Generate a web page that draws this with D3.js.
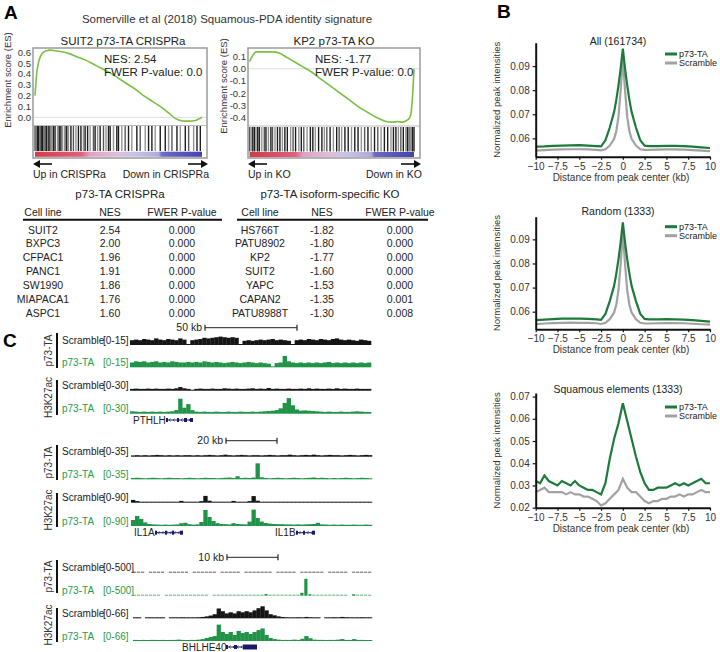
<!DOCTYPE html>
<html><head><meta charset="utf-8">
<script src="https://cdn.jsdelivr.net/npm/d3@7"></script>
<style>body{margin:0;background:#fff}svg{font-family:"Liberation Sans",Arial,sans-serif}</style>
</head><body><svg id="c" width="720" height="652"></svg>
<script>
// ---------------- DATA ----------------
// Panel A: GSEA running enrichment score (rank fraction, ES)
const gseaLeftRank = [0,0.01,0.02,0.035,0.05,0.07,0.09,0.12,0.16,0.2,0.25,0.3,0.35,0.4,0.45,0.5,0.55,0.6,0.65,0.7,0.75,0.8,0.84,0.87,0.9,0.93,0.96,0.98,1];
const gseaLeftES   = [0.2,0.4,0.5,0.57,0.6,0.615,0.62,0.615,0.605,0.59,0.56,0.53,0.49,0.45,0.41,0.36,0.31,0.26,0.2,0.15,0.1,0.04,-0.01,-0.03,-0.035,-0.035,-0.03,-0.015,0.0];
const gseaRightRank = [0,0.02,0.04,0.07,0.1,0.14,0.18,0.22,0.27,0.32,0.37,0.42,0.47,0.52,0.57,0.62,0.67,0.72,0.77,0.82,0.87,0.9,0.93,0.95,0.97,0.98,0.99,1];
const gseaRightES   = [0.06,0.11,0.14,0.14,0.14,0.14,0.13,0.1,0.06,0.02,-0.02,-0.07,-0.12,-0.17,-0.22,-0.27,-0.32,-0.36,-0.4,-0.43,-0.44,-0.435,-0.44,-0.43,-0.41,-0.38,-0.25,0.0];
const gseaLeftHits = [0,0.008,0.015,0.022,0.03,0.037,0.045,0.052,0.06,0.068,0.075,0.083,0.09,0.1,0.11,0.12,0.135,0.145,0.155,0.165,0.18,0.19,0.2,0.215,0.23,0.245,0.26,0.275,0.29,0.3,0.315,0.33,0.35,0.36,0.375,0.39,0.41,0.425,0.44,0.45,0.47,0.49,0.5,0.52,0.54,0.56,0.58,0.61,0.63,0.66,0.68,0.7,0.72,0.75,0.78,0.8,0.82,0.85,0.87,0.9,0.92,0.95,0.97,0.99];
const gseaRightHits = [0,0.01,0.02,0.03,0.04,0.05,0.06,0.075,0.09,0.1,0.115,0.13,0.14,0.155,0.17,0.185,0.2,0.215,0.23,0.25,0.265,0.28,0.3,0.315,0.33,0.35,0.37,0.385,0.4,0.42,0.44,0.455,0.47,0.49,0.51,0.53,0.545,0.56,0.58,0.6,0.62,0.64,0.66,0.68,0.7,0.72,0.74,0.76,0.78,0.8,0.82,0.84,0.86,0.875,0.89,0.905,0.92,0.935,0.95,0.96,0.97,0.98,0.99,1];
const gseaLeftTicks = [0.0,0.1,0.2,0.3,0.4,0.5,0.6];
const gseaRightTicks = [-0.4,-0.3,-0.2,-0.1,0.0,0.1];

// Panel A tables
const crisprCells = ["SUIT2","BXPC3","CFPAC1","PANC1","SW1990","MIAPACA1","ASPC1"];
const crisprNES   = [2.54,2.00,1.96,1.91,1.86,1.76,1.60];
const crisprP     = [0,0,0,0,0,0,0];
const koCells = ["HS766T","PATU8902","KP2","SUIT2","YAPC","CAPAN2","PATU8988T"];
const koNES   = [-1.82,-1.80,-1.77,-1.60,-1.53,-1.35,-1.30];
const koP     = [0,0,0,0,0,0.001,0.008];

// Panel B: aggregate peak profiles
const profX = [-10,-9,-8,-7,-6,-5,-4,-3,-2.5,-2,-1.5,-1,-0.75,-0.5,-0.25,0,0.25,0.5,0.75,1,1.5,2,2.5,3,4,5,6,7,8,9,10];
const allP73 = [0.0566,0.0567,0.0569,0.0570,0.0571,0.0572,0.0570,0.0568,0.0567,0.0592,0.0645,0.0710,0.0760,0.0820,0.0890,0.0972,0.0890,0.0820,0.0760,0.0710,0.0645,0.0592,0.0570,0.0568,0.0568,0.0569,0.0569,0.0568,0.0566,0.0563,0.0560];
const allScr = [0.0549,0.0551,0.0553,0.0554,0.0555,0.0555,0.0554,0.0552,0.0550,0.0555,0.0570,0.0598,0.0630,0.0690,0.0800,0.0930,0.0800,0.0690,0.0630,0.0598,0.0570,0.0555,0.0552,0.0552,0.0553,0.0554,0.0554,0.0553,0.0551,0.0549,0.0547];
const rndP73 = [0.0565,0.0567,0.0569,0.0571,0.0571,0.0571,0.0570,0.0568,0.0566,0.0591,0.0644,0.0708,0.0758,0.0818,0.0888,0.0970,0.0888,0.0818,0.0758,0.0708,0.0644,0.0591,0.0570,0.0568,0.0568,0.0569,0.0568,0.0567,0.0565,0.0562,0.0559];
const rndScr = [0.0548,0.0551,0.0553,0.0554,0.0555,0.0554,0.0554,0.0552,0.0549,0.0554,0.0569,0.0597,0.0629,0.0689,0.0799,0.0928,0.0799,0.0689,0.0629,0.0597,0.0569,0.0554,0.0551,0.0551,0.0552,0.0553,0.0553,0.0552,0.0550,0.0548,0.0546];
const sqX = [-10,-9.5,-9,-8.5,-8,-7.5,-7,-6.5,-6,-5.5,-5,-4.5,-4,-3.5,-3,-2.5,-2,-1.5,-1,-0.5,0,0.5,1,1.5,2,2.5,3,3.5,4,4.5,5,5.5,6,6.5,7,7.5,8,8.5,9,9.5,10];
const sqP73 = [0.032,0.031,0.0345,0.032,0.031,0.030,0.032,0.031,0.030,0.032,0.030,0.029,0.028,0.028,0.027,0.026,0.031,0.042,0.051,0.058,0.067,0.059,0.051,0.043,0.036,0.031,0.028,0.028,0.029,0.029,0.029,0.030,0.031,0.030,0.031,0.030,0.031,0.032,0.033,0.031,0.031];
const sqScr = [0.027,0.028,0.029,0.027,0.027,0.027,0.027,0.026,0.027,0.026,0.026,0.025,0.025,0.024,0.023,0.021,0.022,0.024,0.026,0.028,0.033,0.029,0.027,0.027,0.025,0.023,0.022,0.023,0.023,0.024,0.024,0.025,0.025,0.026,0.025,0.026,0.026,0.027,0.028,0.027,0.027];
const profTicksX = [-10,-7.5,-5,-2.5,0,2.5,5,7.5,10];

// Panel C: binned browser-track signal (60 bins per track)
const c1ScrTA = [4,4.5,4,5,4.5,4,5.5,4.5,4,5,4.5,4,5.5,4.5,0.5,4,4.5,5,6,5.5,6,6.5,7,6.5,6,6.5,6,0.5,3.5,4,3.5,4,4.5,4,4.5,5,4,4.5,4,3.5,0.5,4,4.5,4,5,4.5,4,5,4.5,4,5,5.5,4.5,4,4.5,4,3.5,4.5,4,3.5];
const c1P73TA = [4,5,4.5,5,4,4.5,5,4,4.5,4,5,4.5,4,4,4.5,4,4.5,4,5,4.5,4,4.5,4,3.5,4,4.5,4,3.5,4,4.5,4,3.5,4,3.5,3,0.5,3.5,4,9.5,5,4,3.5,4,3.5,4,3.5,4,3.5,4,4.5,3.5,4,3.5,4,3.5,4,3.5,4,3.5,4];
const c1ScrAc = [3,3.5,3,3,3.5,3,3.5,3,3,3.5,3,4,6,4,3,0.5,3,3.5,3,3,3.5,3,3,4,3.5,3,3.5,3,3,3.5,4,3,3.5,3,4.5,3,3.5,3,3,3.5,3,3,3.5,3,4,3,3.5,3,3,3.5,3,4,3,3.5,3,3,3.5,3,3,3];
const c1P73Ac = [4,3.5,3,3.5,3,3.5,3,3.5,3,3.5,4,6,25,10,16,6,3.5,3,3.5,3,3,3.5,3,3,3.5,3,3,3.5,3,3,3.5,3,3.5,4,4.5,5,6,9,18,26,14,7,5,5.5,5,4.5,4,3.5,3,3.5,3,3,3.5,3,3,3.5,4,3.5,3,3];
const c2ScrTA = [2.5,3,2.5,3,2.5,3,3.5,3,2.5,3,2.5,3,2.5,3,3,2.5,3,2.5,3,3.5,3,2.5,3,4,3,2.5,3,3.5,3,2.5,3,3,2.5,3,3.5,3,2.5,3,3,4,3,2.5,3,3.5,3,4,3,2.5,3,3.5,3,3,2.5,3,3.5,3,2.5,3,3.5,3];
const c2P73TA = [2.5,3,2.5,2,2.5,3,2.5,2,2.5,3,2.5,2.5,2,2.5,3,2.5,2,2.5,3,2.5,2.5,2,2.5,3,3.5,2.5,6,2.5,3,2.5,3.5,31,4,2.5,2,2.5,3,2.5,2,2.5,3,2.5,2,2.5,3,3.5,2.5,3,2.5,0.5,2.5,2,2.5,3,2.5,2,2.5,3,2.5,2];
const c2ScrAc = [14,8,5,4,3.5,4,3.5,4,3.5,4,4,5,9,5,4,3.5,4,8,34,10,5,4,3.5,4,5,9,4,3.5,4,8,33,10,5,4,3.5,4,3.5,4,3.5,3,3.5,3,3.5,3,3.5,3,3,3.5,3,3,3.5,3,3,3.5,3,3,3.5,3,3,3];
const c2P73Ac = [30,50,35,18,10,8,7,6,7,6,7,8,14,16,9,7,8,20,80,45,25,14,10,9,8,14,10,9,8,22,82,40,22,15,12,10,9,9,8,8,7,8,7,8,9,10,16,8,7,6,7,6,7,6,6,7,6,6,7,6];
const c3ScrTA = [8,8,8,0,8,8,8,8,0,8,8,8,8,8,0,8,8,8,8,8,8,0,8,8,8,8,8,0,8,8,8,8,8,8,8,0,8,8,8,8,8,0,8,8,8,8,8,8,0,8,8,8,8,8,0,8,8,8,8,8];
const c3P73TA = [6,6,6,6,6,6,6,0,6,6,6,6,6,6,6,6,6,6,6,0,6,6,6,6,6,6,6,6,6,6,6,6,6,45,6,6,6,6,6,6,6,6,80,470,40,6,6,6,6,6,6,6,6,6,0,40,6,6,6,6];
const c3ScrAc = [3,3,0,3,3,3,3,3,0,3,3,3,4,3,3,3,4,5,7,10,15,36,26,18,22,18,26,22,26,22,29,37,44,29,15,11,7,5,4,3,3,4,3,5,4,3,3,0,3,3,4,3,5,4,3,3,3,4,3,3];
const c3P73Ac = [4,3,4,3,4,4,3,4,3,4,4,5,4,3,4,4,5,7,11,15,18,60,33,26,33,22,37,29,33,26,33,40,46,22,11,7,5,4,4,4,5,4,8,18,10,5,4,4,3,4,4,5,7,4,4,7,4,4,3,3];

// ---------------- DRAWING ----------------
const svg = d3.select("#c");
const FONT = "Liberation Sans, Arial, sans-serif";
function txt(x, y, s, o = {}) {
  const t = svg.append("text").attr("x", x).attr("y", y).text(s)
    .attr("font-size", o.size || 10).attr("fill", o.fill || "#222")
    .attr("text-anchor", o.anchor || "start").attr("font-family", FONT);
  if (o.bold) t.attr("font-weight", "bold");
  if (o.rot) t.attr("transform", `rotate(${o.rot},${x},${y})`);
  return t;
}

// Panel letters
txt(4, 19, "A", {size: 19, bold: true, fill: "#000"});
txt(497, 18, "B", {size: 19, bold: true, fill: "#000"});
txt(3, 347, "C", {size: 19, bold: true, fill: "#000"});

txt(227, 23, "Somerville et al (2018) Squamous-PDA identity signature", {size: 11.5, anchor: "middle", fill: "#333"});

// Gradient for ranked-list band
const defs = svg.append("defs");
const grad = defs.append("linearGradient").attr("id", "band");
[[0, "#d33a4a"], [0.28, "#e0607c"], [0.33, "#e2a2c8"], [0.5, "#dcc0dc"], [0.6, "#c6c2e6"], [0.74, "#b0aadc"], [0.76, "#6e6ac6"], [1, "#4442b0"]]
  .forEach(([o, c]) => grad.append("stop").attr("offset", o).attr("stop-color", c));

function gsea(cfg) {
  const x = d3.scaleLinear().domain([0, 1]).range([cfg.dx0, cfg.dx1]);
  const y = d3.scaleLinear().domain(cfg.yDom).range(cfg.yRange);
  const g = svg.append("g");
  const clipId = "clip" + cfg.id;
  defs.append("clipPath").attr("id", clipId).append("rect")
    .attr("x", cfg.bx0).attr("y", cfg.by0).attr("width", cfg.bx1 - cfg.bx0).attr("height", cfg.ydiv - cfg.by0);
  g.append("line").attr("x1", cfg.bx0).attr("x2", cfg.bx1).attr("y1", y(0)).attr("y2", y(0))
    .attr("stroke", "#ddd").attr("stroke-width", 1);
  g.selectAll(".hit").data(cfg.hits).join("line")
    .attr("x1", d => x(d)).attr("x2", d => x(d)).attr("y1", cfg.bar0).attr("y2", cfg.bar1)
    .attr("stroke", "#111").attr("stroke-width", 1.4)
    .attr("stroke-opacity", (d, i) => (i % 3 === 1 ? 0.45 : (i % 4 === 0 ? 0.7 : 0.95)));
  g.append("rect").attr("x", cfg.dx0).attr("y", cfg.band0).attr("width", cfg.dx1 - cfg.dx0)
    .attr("height", cfg.band1 - cfg.band0).attr("fill", "url(#band)");
  const pts = cfg.rank.map((r, i) => [r, cfg.es[i]]);
  g.append("path").datum(pts).attr("clip-path", `url(#${clipId})`)
    .attr("d", d3.line().x(d => x(d[0])).y(d => y(d[1])).curve(d3.curveMonotoneX))
    .attr("fill", "none").attr("stroke", "#78c043").attr("stroke-width", 1.6);
  g.append("line").attr("x1", cfg.bx0).attr("x2", cfg.bx1).attr("y1", cfg.ydiv).attr("y2", cfg.ydiv)
    .attr("stroke", "#bbb").attr("stroke-width", 1);
  g.append("rect").attr("x", cfg.bx0).attr("y", cfg.by0).attr("width", cfg.bx1 - cfg.bx0)
    .attr("height", cfg.by1 - cfg.by0).attr("fill", "none").attr("stroke", "#9a9a9a").attr("stroke-width", 1.5);
  cfg.ticks.forEach(t => txt(cfg.bx0 - 2, y(t) + 3.5, t.toFixed(1), {size: 9.5, anchor: "end", fill: "#333"}));
  txt(cfg.ylabX, cfg.ylabY, "Enrichment score (ES)", {size: 9.5, anchor: "middle", rot: -90, fill: "#333"});
  txt((cfg.bx0 + cfg.bx1) / 2 + cfg.titleDx, 45, cfg.title, {size: 11.5, anchor: "middle", fill: "#222"});
  txt(cfg.nesX, 63, cfg.nes, {size: 11.5, fill: "#222"});
  txt(cfg.nesX, 76, "FWER P-value: 0.0", {size: 11.5, fill: "#222"});
  const ay = 164;
  g.append("line").attr("x1", cfg.bx0 + 5).attr("x2", cfg.bx0 + 19).attr("y1", ay).attr("y2", ay).attr("stroke", "#111").attr("stroke-width", 1.6);
  g.append("path").attr("d", `M${cfg.bx0},${ay} l7,-4 l0,8 z`).attr("fill", "#111");
  g.append("line").attr("x1", cfg.bx1 - 19).attr("x2", cfg.bx1 - 5).attr("y1", ay).attr("y2", ay).attr("stroke", "#111").attr("stroke-width", 1.6);
  g.append("path").attr("d", `M${cfg.bx1 + 1},${ay} l-7,-4 l0,8 z`).attr("fill", "#111");
  txt(cfg.bx0, 178, cfg.up, {size: 10.5, fill: "#222"});
  txt(cfg.bx1 + 2, 178, cfg.down, {size: 10.5, anchor: "end", fill: "#222"});
}

gsea({id: "L", rank: gseaLeftRank, es: gseaLeftES, hits: gseaLeftHits, ticks: gseaLeftTicks,
  dx0: 35, dx1: 202, bx0: 33, bx1: 207, by0: 48, by1: 158, ydiv: 125.5,
  yDom: [0, 0.6], yRange: [117.3, 52.3], bar0: 126, bar1: 151, band0: 151.7, band1: 156.8,
  ylabX: 11, ylabY: 80, title: "SUIT2 p73-TA CRISPRa", titleDx: 3, nes: "NES: 2.54", nesX: 104,
  up: "Up in CRISPRa", down: "Down in CRISPRa"});
gsea({id: "R", rank: gseaRightRank, es: gseaRightES, hits: gseaRightHits, ticks: gseaRightTicks,
  dx0: 249.5, dx1: 414, bx0: 248, bx1: 420, by0: 48, by1: 158, ydiv: 126,
  yDom: [-0.4, 0.1], yRange: [117.3, 56.7], bar0: 127, bar1: 151.5, band0: 152, band1: 157,
  ylabX: 227, ylabY: 86, title: "KP2 p73-TA KO", titleDx: 0, nes: "NES: -1.77", nesX: 315,
  up: "Up in KO", down: "Down in KO"});

// Tables
function table(cfg) {
  txt(cfg.cx, 198, cfg.title, {size: 11.5, anchor: "middle", fill: "#222"});
  ["Cell line", "NES", "FWER P-value"].forEach((h, i) => txt(cfg.cols[i], 216, h, {size: 10.5, anchor: "middle", fill: "#222"}));
  svg.append("line").attr("x1", cfg.x0).attr("x2", cfg.x1).attr("y1", 219.8).attr("y2", 219.8).attr("stroke", "#111").attr("stroke-width", 2);
  cfg.cells.forEach((c, i) => {
    const yy = 233.5 + i * 13.9;
    txt(cfg.cols[0], yy, c, {size: 10.5, anchor: "middle", fill: "#222"});
    txt(cfg.cols[1], yy, cfg.nes[i].toFixed(2), {size: 10.5, anchor: "middle", fill: "#222"});
    txt(cfg.cols[2], yy, cfg.p[i].toFixed(3), {size: 10.5, anchor: "middle", fill: "#222"});
  });
}
table({title: "p73-TA CRISPRa", cx: 120, cols: [43, 110, 182], x0: 23, x1: 222, cells: crisprCells, nes: crisprNES, p: crisprP});
table({title: "p73-TA isoform-specific KO", cx: 330, cols: [260, 322, 400], x0: 237, x1: 428, cells: koCells, nes: koNES, p: koP});

// Panel B
const GREEN = "#1d7a3a", GREY = "#a2a2a2";
function profile(cfg) {
  const x = d3.scaleLinear().domain([-10, 10]).range([535.7, 710]);
  const y = d3.scaleLinear().domain(cfg.dom).range([cfg.yb, cfg.yt]);
  const line = d3.line().x((d, i) => x(cfg.xs[i])).y(d => y(d));
  svg.append("path").datum(cfg.scr).attr("d", line).attr("fill", "none").attr("stroke", GREY).attr("stroke-width", 2.2);
  svg.append("path").datum(cfg.p73).attr("d", line).attr("fill", "none").attr("stroke", GREEN).attr("stroke-width", 2.2);
  const ga = svg.append("g").attr("transform", `translate(535.7,0)`)
    .call(d3.axisLeft(y).tickValues(cfg.ticks).tickFormat(d3.format(".2f")).tickSize(3).tickSizeOuter(0));
  const gb = svg.append("g").attr("transform", `translate(0,${cfg.yb})`)
    .call(d3.axisBottom(x).tickValues(profTicksX).tickFormat(d3.format("~g")).tickSize(3).tickSizeOuter(0));
  [ga, gb].forEach(g => {
    g.attr("font-family", FONT).attr("font-size", 10);
    g.select(".domain").attr("stroke", "#111").attr("stroke-width", 2);
    g.selectAll(".tick line").attr("stroke", "#111").attr("stroke-width", 1.2);
    g.selectAll(".tick text").attr("fill", "#333");
  });
  txt(618, cfg.titleY, cfg.title, {size: 10.5, anchor: "middle", fill: "#222"});
  txt(621, cfg.yb + 24, "Distance from peak center (kb)", {size: 10, anchor: "middle", fill: "#333"});
  txt(500, (cfg.yt + cfg.yb) / 2, "Normalized peak intensities", {size: 9.5, anchor: "middle", rot: -90, fill: "#333"});
  svg.append("line").attr("x1", 665).attr("x2", 677).attr("y1", cfg.legY).attr("y2", cfg.legY).attr("stroke", GREEN).attr("stroke-width", 3);
  svg.append("line").attr("x1", 665).attr("x2", 677).attr("y1", cfg.legY + 9).attr("y2", cfg.legY + 9).attr("stroke", GREY).attr("stroke-width", 3);
  txt(679, cfg.legY + 3.3, "p73-TA", {size: 9, fill: "#222"});
  txt(679, cfg.legY + 12.3, "Scramble", {size: 9, fill: "#222"});
}
profile({xs: profX, p73: allP73, scr: allScr, dom: [0.0524, 0.0997], yt: 42.7, yb: 156.7, ticks: [0.06, 0.07, 0.08, 0.09], title: "All (161734)", titleY: 45, legY: 54});
profile({xs: profX, p73: rndP73, scr: rndScr, dom: [0.0527, 0.0994], yt: 216.7, yb: 329.3, ticks: [0.06, 0.07, 0.08, 0.09], title: "Random (1333)", titleY: 215, legY: 226.7});
profile({xs: sqX, p73: sqP73, scr: sqScr, dom: [0.02, 0.0716], yt: 393, yb: 507.7, ticks: [0.02, 0.03, 0.04, 0.05, 0.06, 0.07], title: "Squamous elements (1333)", titleY: 393, legY: 407});

// Panel C: genome browser tracks
const TGREEN = "#1f9446", TBLACK = "#151515", LGREEN = "#2a9a4a";
function trackGroup(cfg) {
  const x = d3.scaleBand().domain(d3.range(cfg.tracks[0].data.length)).range([cfg.x0, cfg.x1]);
  cfg.tracks.forEach((t, ti) => {
    const b = cfg.bases[ti];
    const y = d3.scaleLinear().domain([0, t.max]).range([0, 18]);
    const col = t.green ? TGREEN : TBLACK;
    const thin = t.max >= 500;
    svg.append("g").selectAll("rect").data(t.data).join("rect")
      .attr("x", (d, i) => x(i)).attr("width", x.bandwidth() + (thin ? -0.8 : 0.3))
      .attr("y", d => b - Math.max(d > 0 ? 1 : 0, y(d))).attr("height", d => Math.max(d > 0 ? 1 : 0, y(d)))
      .attr("fill", col).attr("fill-opacity", d => (thin && y(d) < 1 ? 0.7 : 1));
    txt(62, b - 1.5, t.label, {size: 10, fill: t.green ? LGREEN : "#222"});
    txt(103, b - 1.5, `[0-${t.max}]`, {size: 10, fill: t.green ? LGREEN : "#222"});
  });
  cfg.bars.forEach((br, i) => {
    svg.append("line").attr("x1", 57).attr("x2", 57).attr("y1", br[0]).attr("y2", br[1]).attr("stroke", "#111").attr("stroke-width", 2);
    txt(52, (br[0] + br[1]) / 2, i === 0 ? "p73-TA" : "H3K27ac", {size: 10, anchor: "middle", rot: -90, fill: "#333"});
  });
  const sb = cfg.scale;
  txt(sb.x0 - 3, sb.y + 3.5, sb.label, {size: 10.5, anchor: "end", fill: "#222"});
  svg.append("line").attr("x1", sb.x0).attr("x2", sb.x1).attr("y1", sb.y).attr("y2", sb.y).attr("stroke", "#222").attr("stroke-width", 1);
  [sb.x0, sb.x1].forEach(xx => svg.append("line").attr("x1", xx).attr("x2", xx).attr("y1", sb.y - 3).attr("y2", sb.y + 3).attr("stroke", "#222").attr("stroke-width", 1.2));
  cfg.genes.forEach(gn => {
    txt(gn.tx, gn.y + 3.5, gn.name, {size: 10, fill: "#222"});
    svg.append("line").attr("x1", gn.g0).attr("x2", gn.g1).attr("y1", gn.y).attr("y2", gn.y).attr("stroke", "#1a1a6a").attr("stroke-width", 1);
    for (let xx = gn.g0 + 3; xx < gn.g1 - 2; xx += 4)
      svg.append("path").attr("d", `M${xx + 1.5},${gn.y - 1.5} L${xx},${gn.y} L${xx + 1.5},${gn.y + 1.5}`).attr("fill", "none").attr("stroke", "#1a1a6a").attr("stroke-width", 0.7);
    gn.exons.forEach(e => svg.append("rect").attr("x", e[0]).attr("width", e[1] - e[0]).attr("y", gn.y - e[2] / 2).attr("height", e[2]).attr("fill", "#1a1a6a"));
  });
}
trackGroup({x0: 130, x1: 371, bases: [345, 367.3, 390.7, 413.7],
  tracks: [{label: "Scramble", max: 15, data: c1ScrTA}, {label: "p73-TA", max: 15, data: c1P73TA, green: true},
           {label: "Scramble", max: 30, data: c1ScrAc}, {label: "p73-TA", max: 30, data: c1P73Ac, green: true}],
  bars: [[333, 368], [380, 415]], scale: {label: "50 kb", x0: 205, x1: 297, y: 327.7},
  genes: [{name: "PTHLH", tx: 133, y: 420, g0: 166, g1: 193, exons: [[166, 168, 4], [177, 179, 4], [184, 187, 4], [190, 193, 4]]}]});
trackGroup({x0: 131, x1: 372, bases: [456.7, 479.3, 502.7, 526],
  tracks: [{label: "Scramble", max: 35, data: c2ScrTA}, {label: "p73-TA", max: 35, data: c2P73TA, green: true},
           {label: "Scramble", max: 90, data: c2ScrAc}, {label: "p73-TA", max: 90, data: c2P73Ac, green: true}],
  bars: [[445, 480], [493, 527]], scale: {label: "20 kb", x0: 226, x1: 277, y: 440.7},
  genes: [{name: "IL1A", tx: 134, y: 532.7, g0: 155, g1: 183, exons: [[155, 157, 4], [165, 167, 4], [172, 174, 4], [180, 183, 4]]},
          {name: "IL1B", tx: 275, y: 532.7, g0: 296, g1: 315, exons: [[296, 298, 4], [303, 305, 4], [312, 315, 4]]}]});
trackGroup({x0: 133, x1: 372, bases: [572.7, 595.7, 618.3, 641],
  tracks: [{label: "Scramble", max: 500, data: c3ScrTA}, {label: "p73-TA", max: 500, data: c3P73TA, green: true},
           {label: "Scramble", max: 66, data: c3ScrAc}, {label: "p73-TA", max: 66, data: c3P73Ac, green: true}],
  bars: [[560, 593], [608, 642]], scale: {label: "10 kb", x0: 227, x1: 278, y: 557.3},
  genes: [{name: "BHLHE40", tx: 182, y: 647, g0: 226, g1: 257, exons: [[226, 228, 4], [234, 237, 4], [243, 257, 5]]}]});
</script></body></html>
